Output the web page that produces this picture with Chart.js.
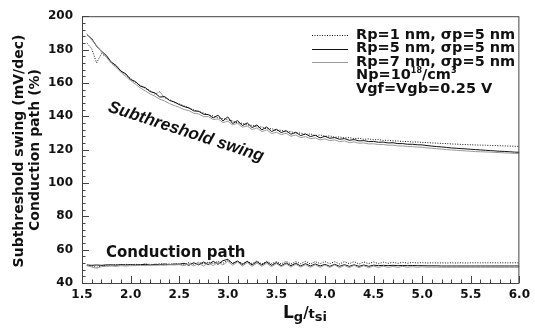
<!DOCTYPE html>
<html><head><meta charset="utf-8">
<style>html,body{margin:0;padding:0;background:#fff}canvas{display:block}</style>
<script src="https://cdn.jsdelivr.net/npm/chart.js@4/dist/chart.umd.min.js"></script>
</head><body>
<canvas id="c" width="535" height="329"></canvas>
<script>
// Lg/tsi sample positions
const xs = [1.55,1.60,1.65,1.70,1.75,1.80,1.85,1.90,1.95,2.00,
            2.05,2.10,2.15,2.20,2.25,2.30,2.35,2.40,2.45,2.50,
            2.55,2.60,2.65,2.70,2.75,2.80,2.85,2.90,2.95,3.00,
            3.05,3.10,3.15,3.20,3.25,3.30,3.35,3.40,3.45,3.50,
            3.55,3.60,3.65,3.70,3.75,3.80,3.85,3.90,3.95,4.00,
            4.05,4.10,4.15,4.20,4.25,4.30,4.35,4.40,4.45,4.50,
            4.55,4.60,4.65,4.70,4.75,4.80,4.85,4.90,4.95,5.00,
            5.05,5.10,5.15,5.20,5.25,5.30,5.35,5.40,5.45,5.50,
            5.55,5.60,5.65,5.70,5.75,5.80,5.85,5.90,5.95,6.00];

// Subthreshold swing (mV/dec)
const swingRp1 = [184.0,180.5,172.0,177.5,175.8,172.0,170.0,167.4,164.8,162.6,
                  160.2,158.6,156.8,155.4,153.2,154.8,151.0,150.0,148.2,147.4,
                  146.2,145.0,143.8,142.8,142.0,140.8,140.2,139.0,138.6,137.8,
                  137.2,136.0,135.8,134.8,134.6,133.6,133.6,132.4,132.6,131.6,
                  131.6,130.6,130.8,129.8,130.0,129.0,129.4,128.4,128.8,128.0,
                  128.2,127.4,127.6,127.0,127.2,126.6,126.8,126.2,126.4,125.9,
                  126.0,125.5,125.6,125.2,125.2,124.8,124.9,124.5,124.6,124.3,
                  124.2,124.0,123.9,123.7,123.6,123.4,123.3,123.1,123.0,122.9,
                  122.8,122.7,122.6,122.5,122.4,122.3,122.2,122.1,122.0,121.9];
const swingRp5 = [189.0,186.5,182.0,179.0,176.5,172.5,170.5,167.0,165.5,162.0,
                  160.8,158.0,157.2,154.8,154.0,151.5,151.8,149.5,148.6,147.0,
                  145.8,145.0,143.2,143.0,141.2,141.0,139.0,140.6,137.2,139.6,
                  135.6,137.4,134.4,136.0,133.2,134.8,131.8,133.6,130.8,132.2,
                  130.2,131.4,129.2,130.4,128.4,129.4,127.8,128.6,127.0,128.0,
                  126.8,127.2,126.2,126.6,125.6,126.0,125.2,125.4,124.8,124.9,
                  124.4,124.5,124.0,124.1,123.6,123.6,123.2,123.2,122.9,122.8,
                  122.4,122.1,121.8,121.6,121.3,121.0,120.8,120.6,120.4,120.2,
                  120.0,119.8,119.6,119.4,119.2,119.0,118.9,118.7,118.5,118.4];
const swingRp7 = [189.5,185.8,182.5,178.6,175.4,172.0,169.2,166.4,163.8,161.4,
                  159.2,157.0,155.2,153.4,152.0,150.2,149.2,147.6,146.4,145.4,
                  144.0,143.4,141.8,141.4,139.8,139.8,138.0,138.4,136.2,137.0,
                  134.8,135.8,133.4,134.2,132.0,133.0,130.8,131.8,129.6,130.4,
                  129.0,129.8,128.0,128.8,127.2,127.8,126.6,127.0,125.8,126.4,
                  125.4,125.8,124.8,125.2,124.2,124.6,123.8,124.0,123.4,123.5,
                  123.0,123.1,122.6,122.7,122.2,122.2,121.8,121.8,121.5,121.4,
                  121.0,120.8,120.5,120.3,120.0,119.8,119.6,119.4,119.2,119.0,
                  118.8,118.7,118.6,118.5,118.3,118.2,118.0,117.9,117.7,117.6];

// Conduction path (%)
const condRp1 = [50.6,50.2,49.4,50.4,50.8,50.6,51.0,50.8,51.2,51.0,
                 51.2,51.0,51.4,51.2,51.0,51.6,51.2,51.4,51.2,51.6,
                 51.2,52.2,51.2,52.4,51.4,52.6,51.6,53.0,51.8,53.8,
                 51.8,53.2,51.6,53.0,51.6,53.2,51.4,53.0,51.6,52.8,
                 51.4,53.0,51.4,52.8,51.6,53.0,51.4,52.8,51.6,52.8,
                 51.6,52.8,51.4,52.8,51.6,52.8,51.4,52.6,51.6,52.6,
                 51.6,52.5,51.8,52.4,51.8,52.4,51.9,52.3,52.0,52.2,
                 52.0,52.1,52.0,52.1,52.0,52.1,52.0,52.1,52.0,52.1,
                 52.1,52.1,52.1,52.1,52.1,52.1,52.1,52.1,52.1,52.1];
const condRp5 = [50.8,50.6,50.8,50.6,50.8,50.9,50.7,51.0,50.8,51.0,
                 50.8,51.0,51.2,50.8,51.2,51.0,51.4,51.0,51.4,51.2,
                 51.8,50.6,52.2,50.8,52.6,51.0,53.0,51.2,53.4,54.2,
                 51.6,53.2,51.0,53.0,50.8,52.8,50.8,52.6,50.6,52.2,
                 50.4,52.0,50.4,51.8,50.2,51.6,50.2,51.4,50.2,51.2,
                 50.0,51.2,50.0,51.0,50.0,50.9,50.0,50.8,50.0,50.7,
                 50.4,50.6,50.4,50.6,50.4,50.5,50.4,50.5,50.4,50.4,
                 50.3,50.3,50.3,50.2,50.2,50.2,50.2,50.2,50.2,50.2,
                 50.2,50.2,50.2,50.2,50.2,50.2,50.2,50.2,50.2,50.2];
const condRp7 = [50.4,49.6,48.8,49.8,50.0,50.2,50.0,50.4,50.2,50.4,
                 50.4,50.6,50.4,50.8,50.6,50.8,50.6,51.0,50.8,51.0,
                 50.4,51.6,50.2,51.8,50.2,52.0,50.4,52.4,50.8,53.0,
                 50.6,52.6,50.2,52.2,50.0,52.0,50.0,51.8,49.8,51.6,
                 49.8,51.4,49.6,51.2,49.6,51.0,49.4,51.0,49.4,50.8,
                 49.4,50.8,49.2,50.6,49.2,50.6,49.2,50.4,49.2,50.2,
                 49.3,50.1,49.3,50.0,49.3,50.0,49.4,49.8,49.4,49.7,
                 49.5,49.5,49.5,49.4,49.4,49.4,49.4,49.4,49.4,49.4,
                 49.4,49.4,49.4,49.4,49.4,49.4,49.4,49.4,49.4,49.4];

const seriesLabels = ['Rp=1 nm, \u03c3p=5 nm','Rp=5 nm, \u03c3p=5 nm','Rp=7 nm, \u03c3p=5 nm'];
const xTicks = [1.5,2.0,2.5,3.0,3.5,4.0,4.5,5.0,5.5,6.0];
const yTicks = [40,60,80,100,120,140,160,180,200];

const styles = [
  {color:'#111', dash:[1,1.5], width:1},
  {color:'#111', dash:[], width:1},
  {color:'#9a9a9a', dash:[], width:1}
];
const toPts = arr => arr.map((v,i)=>({x:xs[i], y:v}));
const swings = [swingRp1, swingRp5, swingRp7];
const conds = [condRp1, condRp5, condRp7];
const datasets = [];
[2,0,1].forEach(i=>{
  [swings[i], conds[i]].forEach(arr=>{
    datasets.push({data:toPts(arr), borderColor:styles[i].color, borderDash:styles[i].dash,
      borderWidth:styles[i].width, pointRadius:0, tension:0, fill:false});
  });
});

const frame = {
  id:'frame',
  afterDraw(chart){
    const c = chart.ctx, a = chart.chartArea, xs_ = chart.scales.x, ys_ = chart.scales.y;
    c.save();
    c.strokeStyle = '#444'; c.lineWidth = 1;
    c.strokeRect(a.left+0.5, a.top+0.5, a.right-a.left-1, a.bottom-a.top);
    c.beginPath();
    for (let k=15;k<=60;k++){
      const v=k/10, px=Math.round(xs_.getPixelForValue(v))+0.5;
      const len = (k%5===0)?7:3.5;
      c.moveTo(px,a.bottom); c.lineTo(px,a.bottom-len);
    }
    for (let v=40; v<=200; v+=4){
      const py=Math.round(ys_.getPixelForValue(v))+0.5;
      const len = (v%20===0)?7:3.5;
      c.moveTo(a.left,py); c.lineTo(a.left+len,py);
    }
    c.stroke();
    // y title
    c.fillStyle='#111';
    c.font='bold 14px "DejaVu Sans"';
    c.textAlign='center'; c.textBaseline='middle';
    c.save(); c.translate(19,151); c.rotate(-Math.PI/2); c.fillText('Subthreshold swing (mV/dec)',0,0); c.restore();
    c.save(); c.translate(35,150); c.rotate(-Math.PI/2); c.fillText('Conduction path (%)',0,0); c.restore();
    // x title Lg/tsi
    c.textAlign='left'; c.textBaseline='alphabetic';
    let x=283; const base=318;
    const part=(t,f,dy)=>{c.font=f; c.fillText(t,x,base+dy); x+=c.measureText(t).width;};
    part('L','bold 17px "DejaVu Sans"',0);
    part('g','bold 13px "DejaVu Sans"',3);
    part('/','bold 15px "DejaVu Sans"',0);
    part('t','bold 13px "DejaVu Sans"',0);
    part('si','bold 13px "DejaVu Sans"',3);
    // curve labels
    c.font='bold 15px "DejaVu Sans"';
    c.fillText('Conduction path',106,257);
    c.save(); c.translate(186,132); c.rotate(18*Math.PI/180);
    c.textAlign='center'; c.textBaseline='middle';
    c.font='italic bold 17px "Liberation Sans"';
    c.fillText('Subthreshold swing',0,0); c.restore();
    // legend
    const rows=[35,48.5,62];
    const LF='bold 14.5px "DejaVu Sans"';
    c.font=LF; c.textBaseline='middle'; c.textAlign='left';
    rows.forEach((y,i)=>{
      c.save(); c.strokeStyle=styles[i].color; c.lineWidth=1; c.setLineDash(styles[i].dash);
      c.beginPath(); c.moveTo(312,Math.round(y)+0.5); c.lineTo(348,Math.round(y)+0.5); c.stroke(); c.restore();
      c.font=LF; c.fillText(seriesLabels[i],356,y);
    });
    // Np line
    x=356; let yb=75.5;
    const sp=(t,f,dy)=>{c.font=f; c.fillText(t,x,yb+dy); x+=c.measureText(t).width;};
    sp('Np=10',LF,0);
    sp('18','bold 8px "DejaVu Sans"',-5);
    sp('/cm',LF,0);
    sp('3','bold 8px "DejaVu Sans"',-5);
    c.font=LF;
    c.fillText('Vgf=Vgb=0.25 V',356,89);
    c.restore();
  }
};

new Chart(document.getElementById('c'), {
  type:'line',
  data:{datasets},
  options:{
    responsive:false, animation:false, devicePixelRatio:1,
    layout:{padding:{top:15,right:8,left:0,bottom:0}},
    plugins:{legend:{display:false}, tooltip:{enabled:false}},
    scales:{
      x:{type:'linear', min:1.5, max:6,
         afterBuildTicks:s=>{s.ticks=xTicks.map(v=>({value:v}));},
         afterFit:s=>{s.height=46;},
         ticks:{font:{family:'DejaVu Sans',weight:'bold',size:12}, color:'#111', padding:5, maxRotation:0, autoSkip:false, callback:v=>Number(v).toFixed(1)},
         grid:{display:true, drawOnChartArea:false, drawTicks:false},
         border:{display:false}},
      y:{type:'linear', min:40, max:200,
         afterBuildTicks:s=>{s.ticks=yTicks.map(v=>({value:v}));},
         afterFit:s=>{s.width=82;},
         ticks:{font:{family:'DejaVu Sans',weight:'bold',size:12}, color:'#111', padding:9, autoSkip:false},
         grid:{display:true, drawOnChartArea:false, drawTicks:false},
         border:{display:false}}
    }
  },
  plugins:[frame]
});
</script>
</body></html>
